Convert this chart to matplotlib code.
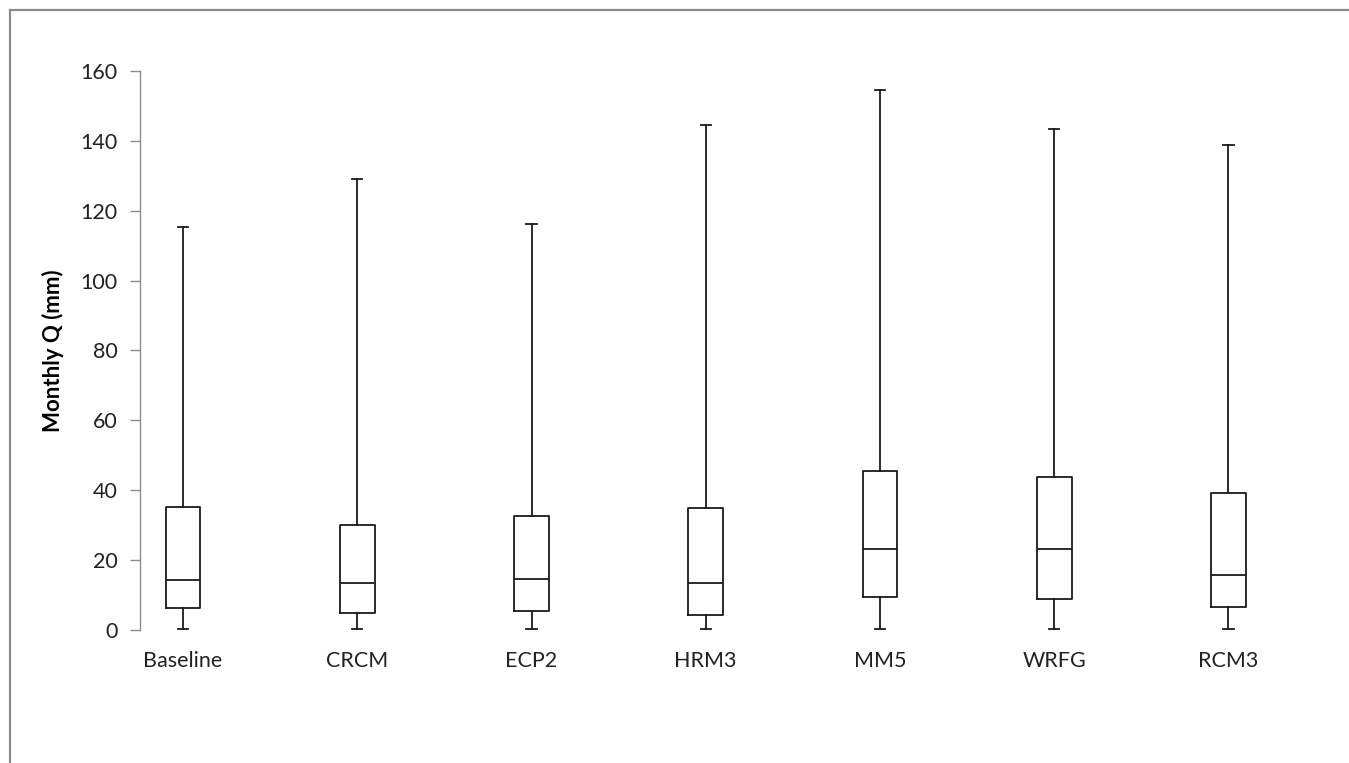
import matplotlib
matplotlib.use("Agg")
from matplotlib import pyplot as plt
from matplotlib.lines import Line2D

# values
models = ["Baseline", "CRCM", "ECP2", "HRM3", "MM5", "WRFG", "RCM3"]
q_min = [0.4, 0.4, 0.4, 0.4, 0.4, 0.4, 0.4]
q1 = [6.4, 5.0, 5.5, 4.2, 9.4, 8.9, 6.7]
q_med = [14.2, 13.5, 14.5, 13.5, 23.3, 23.3, 15.7]
q3 = [35.1, 30.0, 32.5, 34.8, 45.5, 43.9, 39.1]
q_max = [115.4, 129.0, 116.1, 144.6, 154.5, 143.4, 138.8]
yticks = [0, 20, 40, 60, 80, 100, 120, 140, 160]

W, H = 1349, 763
plt.rcParams['font.family'] = ['Lato', 'DejaVu Sans']

fig = plt.figure(figsize=(W / 100, H / 100), dpi=100)
ax = fig.add_axes([140 / W, (H - 630) / H, (1272 - 140) / W, (630 - 71) / H])

stats = []
for i, name in enumerate(models):
    stats.append(dict(label=name, whislo=q_min[i], q1=q1[i], med=q_med[i],
                      q3=q3[i], whishi=q_max[i]))

lc = "#1a1a1a"
ax.bxp(stats, positions=range(len(models)), widths=0.2, capwidths=0.06,
       showfliers=False, manage_ticks=False,
       boxprops=dict(color=lc, linewidth=1.3),
       whiskerprops=dict(color=lc, linewidth=1.3),
       capprops=dict(color=lc, linewidth=1.3),
       medianprops=dict(color=lc, linewidth=1.3))

ax.set_xlim(-0.247, 6.25)
ax.set_ylim(0, 160)
ax.set_yticks(yticks)
ax.set_xticks(range(len(models)))
ax.set_xticklabels(models)

for s in ["top", "right", "bottom"]:
    ax.spines[s].set_visible(False)
ax.spines["left"].set_color("#8c8c8c")
ax.spines["left"].set_linewidth(1.0)
ax.tick_params(axis="y", direction="out", length=7, width=1.0, color="#8c8c8c",
               labelsize=15.5, labelcolor="#222222", pad=9)
ax.tick_params(axis="x", length=0, labelsize=15.5, labelcolor="#222222", pad=15)

ax.set_ylabel("Monthly Q (mm)", fontsize=16, fontweight="bold", color="black",
              labelpad=12)

# outer chart frame (only top and left edges visible)
fig.add_artist(Line2D([10 / W, 1], [1 - 10 / H, 1 - 10 / H], color="#8a8a8a",
                      linewidth=1.6, transform=fig.transFigure))
fig.add_artist(Line2D([10 / W, 10 / W], [0, 1 - 10 / H], color="#8a8a8a",
                      linewidth=1.6, transform=fig.transFigure))

fig.savefig("out.png", dpi=100)
